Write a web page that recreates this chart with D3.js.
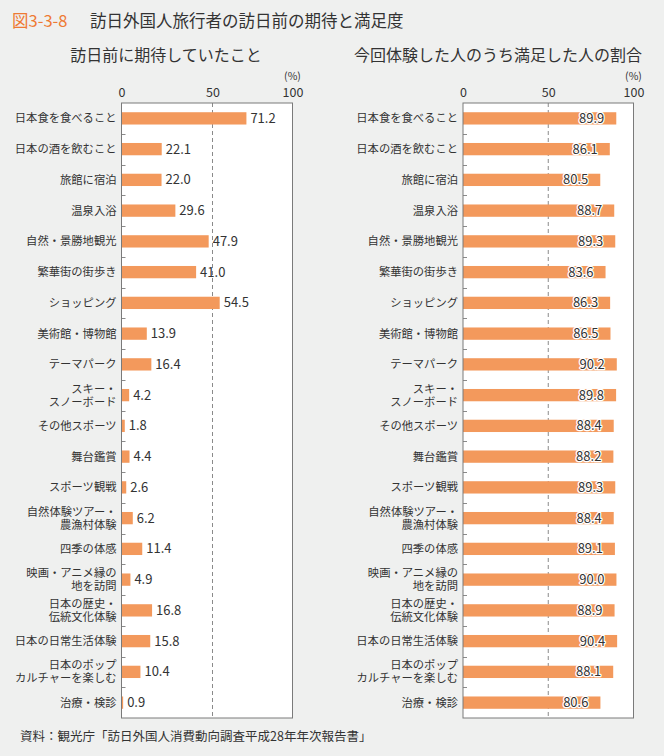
<!DOCTYPE html>
<html>
<head>
<meta charset="utf-8">
<script src="https://cdn.jsdelivr.net/npm/d3@7"></script>
<style>
html,body{margin:0;padding:0;background:#eff0ef;}
svg{display:block;font-family:"Noto Sans CJK JP","Noto Sans",sans-serif;}
</style>
</head>
<body>
<svg id="chart" width="664" height="756"></svg>
<script>
const categories = [
  "日本食を食べること",
  "日本の酒を飲むこと",
  "旅館に宿泊",
  "温泉入浴",
  "自然・景勝地観光",
  "繁華街の街歩き",
  "ショッピング",
  "美術館・博物館",
  "テーマパーク",
  "スキー・\nスノーボード",
  "その他スポーツ",
  "舞台鑑賞",
  "スポーツ観戦",
  "自然体験ツアー・\n農漁村体験",
  "四季の体感",
  "映画・アニメ縁の\n地を訪問",
  "日本の歴史・\n伝統文化体験",
  "日本の日常生活体験",
  "日本のポップ\nカルチャーを楽しむ",
  "治療・検診"
];
const expected = [71.2, 22.1, 22.0, 29.6, 47.9, 41.0, 54.5, 13.9, 16.4, 4.2, 1.8, 4.4, 2.6, 6.2, 11.4, 4.9, 16.8, 15.8, 10.4, 0.9];
const satisfied = [89.9, 86.1, 80.5, 88.7, 89.3, 83.6, 86.3, 86.5, 90.2, 89.8, 88.4, 88.2, 89.3, 88.4, 89.1, 90.0, 88.9, 90.4, 88.1, 80.6];
const tickValues = [0, 50, 100];
const figNo = "図3-3-8";
const title = "訪日外国人旅行者の訪日前の期待と満足度";
const subtitles = ["訪日前に期待していたこと", "今回体験した人のうち満足した人の割合"];
const unitLabel = "(%)";
const source = "資料：観光庁「訪日外国人消費動向調査平成28年年次報告書」";

const svg = d3.select("#chart");
const barColor = "#f3995c";
const textColor = "#333333";
const frameColor = "#7a7a7a";

// Title
const t = svg.append("text").attr("x", 12).attr("y", 27).attr("font-size", 16.5);
t.append("tspan").attr("fill", "#ee7a33").text(figNo);
t.append("tspan").attr("fill", textColor).attr("x", 90).text(title);

const yScale = d3.scaleBand().domain(categories).range([103, 718]).paddingInner(0.6).paddingOuter(0.3);

const panels = [
  { values: expected, x: d3.scaleLinear().domain([0, 50, 100]).range([121.5, 212.5, 292.5]), inside: false, subX: 166 },
  { values: satisfied, x: d3.scaleLinear().domain([0, 100]).range([463, 633.5]), inside: true, subX: 498 }
];

panels.forEach((p, pi) => {
  const g = svg.append("g");
  const x = p.x;
  const [x0, x1] = [x(0), x(100)];
  const [y0, y1] = yScale.range();

  g.append("text").attr("x", p.subX).attr("y", 61).attr("text-anchor", "middle")
    .attr("font-size", 16).attr("fill", textColor).text(subtitles[pi]);

  g.append("rect").attr("x", x0).attr("y", y0).attr("width", x1 - x0).attr("height", y1 - y0)
    .attr("fill", "#ffffff");

  g.append("line").attr("x1", x(50)).attr("x2", x(50)).attr("y1", y0).attr("y2", y1)
    .attr("stroke", "#8a8a8a").attr("stroke-width", 1).attr("stroke-dasharray", "4,3");

  const step = yScale.step();
  for (let k = 1; k < categories.length; k++) {
    const yy = Math.round(y0 + step * k) + 0.5;
    g.append("line").attr("x1", x0).attr("x2", x0 + 4).attr("y1", yy).attr("y2", yy)
      .attr("stroke", "#8a8a8a").attr("stroke-width", 1);
  }

  g.selectAll("rect.bar").data(p.values).join("rect").attr("class", "bar")
    .attr("x", x0)
    .attr("y", (d, i) => yScale(categories[i]))
    .attr("width", d => x(d) - x0)
    .attr("height", yScale.bandwidth())
    .attr("fill", barColor);

  g.append("rect").attr("x", x0).attr("y", y0).attr("width", x1 - x0).attr("height", y1 - y0)
    .attr("fill", "none").attr("stroke", frameColor).attr("stroke-width", 1);

  const axis = d3.axisTop(x).tickValues(tickValues).tickSize(0).tickPadding(0).tickFormat(d3.format("d"));
  const ag = g.append("g").attr("transform", `translate(0,97)`).call(axis);
  ag.select(".domain").remove();
  ag.selectAll("text").attr("font-size", 12.5).attr("fill", textColor)
    .attr("font-family", "'Noto Sans CJK JP','Noto Sans',sans-serif").attr("dy", 0);
  g.append("text").attr("x", x1).attr("y", 80).attr("text-anchor", "middle")
    .attr("font-size", 10.5).attr("fill", textColor).text(unitLabel);

  g.selectAll("text.cat").data(categories).join("text").attr("class", "cat")
    .attr("text-anchor", "end").attr("font-size", 11.3).attr("fill", textColor)
    .each(function (d) {
      const lines = d.split("\n");
      const cy = yScale(d) + yScale.bandwidth() / 2;
      const tx = d3.select(this);
      lines.forEach((ln, li) => {
        const off = (li - (lines.length - 1) / 2) * 13;
        tx.append("tspan").attr("x", x0 - 5).attr("y", cy + off + 4).text(ln);
      });
    });

  const vl = g.selectAll("text.val").data(p.values).join("text").attr("class", "val")
    .attr("y", (d, i) => yScale(categories[i]) + yScale.bandwidth() / 2 + 4.5)
    .attr("font-size", 13).attr("fill", textColor)
    .text(d => d.toFixed(1));
  if (p.inside) {
    vl.attr("x", d => x(d) - 12).attr("text-anchor", "end")
      .attr("stroke", "#ffffff").attr("stroke-width", 2.5).attr("paint-order", "stroke")
      .attr("stroke-linejoin", "round");
  } else {
    vl.attr("x", d => x(d) + 4).attr("text-anchor", "start");
  }
});

svg.append("text").attr("x", 20).attr("y", 741).attr("font-size", 12.5).attr("fill", textColor).text(source);
</script>
</body>
</html>
